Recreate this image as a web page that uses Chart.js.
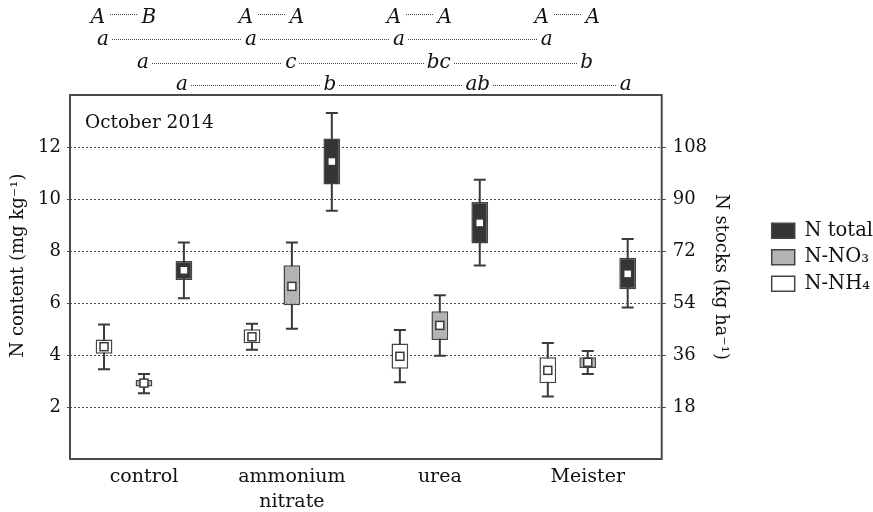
<!DOCTYPE html>
<html><head><meta charset="utf-8">
<script src="https://cdn.jsdelivr.net/npm/chart.js@4.4.1/dist/chart.umd.min.js"></script>
<style>html,body{margin:0;padding:0;background:#fff}#wrap{width:873px;height:512px;position:relative}</style>
</head><body><div id="wrap"><canvas id="c" width="873" height="512"></canvas></div>
<script>
const categories = ['control', ['ammonium', 'nitrate'], 'urea', 'Meister'];
const seriesNames = ['N-NH₄', 'N-NO₃', 'N total'];
// N-NH4
const nh4Min = [3.45, 4.20, 2.95, 2.40];
const nh4Q1 = [4.05, 4.45, 3.47, 2.91];
const nh4Med = [4.32, 4.70, 3.95, 3.41];
const nh4Q3 = [4.60, 4.99, 4.44, 3.91];
const nh4Max = [5.17, 5.20, 4.96, 4.46];
// N-NO3
const no3Min = [2.53, 5.01, 3.97, 3.27];
const no3Q1 = [2.79, 5.91, 4.58, 3.50];
const no3Med = [2.92, 6.64, 5.14, 3.72];
const no3Q3 = [3.04, 7.45, 5.68, 3.91];
const no3Max = [3.27, 8.33, 6.30, 4.15];
// N total
const totMin = [6.18, 9.55, 7.44, 5.83];
const totQ1 = [6.88, 10.56, 8.29, 6.53];
const totMed = [7.26, 11.44, 9.08, 7.12];
const totQ3 = [7.62, 12.33, 9.88, 7.74];
const totMax = [8.33, 13.31, 10.74, 8.46];
// significance letters
const lettersTop = [['A', 'B'], ['A', 'A'], ['A', 'A'], ['A', 'A']];
const lettersNH4 = ['a', 'a', 'a', 'a'];
const lettersNO3 = ['a', 'c', 'bc', 'b'];
const lettersTot = ['a', 'b', 'ab', 'a'];
const leftTicks = [2, 4, 6, 8, 10, 12];
const rightTicks = [18, 36, 54, 72, 90, 108];
const panelLabel = 'October 2014';

const FONT = "'DejaVu Serif', serif";
const INK = '#3a3a3a';
const fills = ['#ffffff', '#b3b3b3', '#353535'];
const mins = [nh4Min, no3Min, totMin];
const meds = [nh4Med, no3Med, totMed];
const maxs = [nh4Max, no3Max, totMax];
const q1s = [nh4Q1, no3Q1, totQ1];
const q3s = [nh4Q3, no3Q3, totQ3];

const boxPlugin = {
  id: 'boxparts',
  beforeDatasetsDraw(chart) {
    const ctx = chart.ctx, y = chart.scales.y;
    ctx.save();
    ctx.strokeStyle = INK; ctx.lineWidth = 2;
    for (let d = 0; d < 3; d++) {
      const meta = chart.getDatasetMeta(d);
      meta.data.forEach((bar, i) => {
        const x = bar.x;
        const y1 = y.getPixelForValue(mins[d][i]);
        const y2 = y.getPixelForValue(maxs[d][i]);
        ctx.beginPath();
        ctx.moveTo(x, y1); ctx.lineTo(x, y2);
        ctx.moveTo(x - 6, y1); ctx.lineTo(x + 6, y1);
        ctx.moveTo(x - 6, y2); ctx.lineTo(x + 6, y2);
        ctx.stroke();
      });
    }
    ctx.restore();
  },
  afterDatasetsDraw(chart) {
    const ctx = chart.ctx, y = chart.scales.y;
    ctx.save();
    ctx.strokeStyle = INK; ctx.lineWidth = 1.5; ctx.fillStyle = '#fff';
    for (let d = 0; d < 3; d++) {
      const meta = chart.getDatasetMeta(d);
      meta.data.forEach((bar, i) => {
        const x = bar.x, ym = y.getPixelForValue(meds[d][i]);
        ctx.fillRect(x - 4, ym - 4, 8, 8);
        ctx.strokeRect(x - 4, ym - 4, 8, 8);
      });
    }
    // frame
    const a = chart.chartArea;
    ctx.strokeStyle = '#4a4a4a'; ctx.lineWidth = 2;
    ctx.strokeRect(a.left, a.top, a.right - a.left, a.bottom - a.top);
    // panel label
    ctx.fillStyle = '#111'; ctx.font = '18.5px ' + FONT;
    ctx.textBaseline = 'middle'; ctx.textAlign = 'left';
    ctx.fillText(panelLabel, a.left + 15, a.top + 28);
    ctx.restore();
  },
  afterDraw(chart) {
    const ctx = chart.ctx;
    ctx.save();
    ctx.font = 'italic 20px ' + FONT;
    ctx.textBaseline = 'alphabetic'; ctx.textAlign = 'center';
    const xs = d => chart.getDatasetMeta(d).data.map(b => b.x);
    const rows = [];
    const t = [];
    lettersTop.forEach((p, i) => {
      t.push({x: xs(0)[i] - 6, s: p[0], link: true});
      t.push({x: xs(1)[i] + 5, s: p[1], link: false});
    });
    rows.push({y: 23, dy: 9, gap: 5, items: t});
    rows.push({y: 45, dy: 6, gap: 3, items: lettersNH4.map((s, i) => ({x: xs(0)[i] - 1, s, link: i < 3}))});
    rows.push({y: 68, dy: 5, gap: 3, items: lettersNO3.map((s, i) => ({x: xs(1)[i] - 1, s, link: i < 3}))});
    rows.push({y: 90, dy: 5, gap: 3, items: lettersTot.map((s, i) => ({x: xs(2)[i] - 2, s, link: i < 3}))});
    rows.forEach(r => {
      r.items.forEach((it, k) => {
        ctx.fillStyle = '#111';
        ctx.fillText(it.s, it.x, r.y);
        if (it.link && r.items[k + 1]) {
          const w1 = ctx.measureText(it.s).width / 2;
          const n = r.items[k + 1];
          const w2 = ctx.measureText(n.s).width / 2;
          ctx.save();
          ctx.strokeStyle = '#444'; ctx.lineWidth = 1; ctx.setLineDash([1, 1]);
          ctx.beginPath();
          const yy = Math.round(r.y - r.dy) + 0.5;
          ctx.moveTo(Math.round(it.x + w1 + r.gap), yy); ctx.lineTo(Math.round(n.x - w2 - r.gap), yy);
          ctx.stroke();
          ctx.restore();
        }
      });
    });
    ctx.restore();
  }
};

new Chart(document.getElementById('c'), {
  type: 'bar',
  data: {
    labels: categories,
    datasets: [0, 1, 2].map(d => ({
      label: seriesNames[d],
      data: q1s[d].map((v, i) => [v, q3s[d][i]]),
      backgroundColor: fills[d],
      borderColor: '#444',
      borderWidth: 1.5,
      borderSkipped: false,
      categoryPercentage: 0.81,
      barPercentage: 0.42
    }))
  },
  options: {
    responsive: false,
    animation: false,
    layout: {padding: {top: 95, right: -10, bottom: 0, left: 0}},
    plugins: {
      tooltip: {enabled: false},
      legend: {
        position: 'right',
        align: 'start',
        fullSize: false,
        title: {display: true, text: ' ', font: {size: 10}, padding: {top: 0, bottom: 107}},
        labels: {
          color: '#111',
          font: {family: FONT, size: 19.5},
          boxWidth: 23, boxHeight: 15, padding: 7,
          generateLabels: () => [2, 1, 0].map(d => ({
            text: seriesNames[d], fillStyle: fills[d], strokeStyle: '#444', fontColor: '#111',
            lineWidth: 1.5, datasetIndex: d, hidden: false
          }))
        }
      }
    },
    scales: {
      x: {
        grid: {display: false, drawTicks: false},
        border: {display: false},
        ticks: {color: '#111', font: {family: FONT, size: 19, lineHeight: 1.3}, padding: 6, maxRotation: 0, autoSkip: false},
        afterFit: s => { s.height = 53; }
      },
      y: {
        position: 'left', min: 0, max: 14,
        afterBuildTicks: s => { s.ticks = leftTicks.map(v => ({value: v})); },
        grid: {color: '#444', lineWidth: 1, tickLength: 3, drawTicks: true},
        border: {display: false, dash: [2, 2]},
        ticks: {color: '#111', font: {family: FONT, size: 18}, padding: 6},
        title: {display: true, text: '    N content (mg kg⁻¹)', color: '#111', font: {family: FONT, size: 18}, padding: {top: 8, bottom: 0}},
        afterFit: s => { s.width = 70; }
      },
      y1: {
        position: 'right', min: 0, max: 126,
        afterBuildTicks: s => { s.ticks = rightTicks.map(v => ({value: v})); },
        grid: {drawOnChartArea: false, tickLength: 4, color: '#444'},
        border: {display: false},
        ticks: {color: '#111', font: {family: FONT, size: 18}, padding: 7},
        title: {display: true, text: 'N stocks (kg ha⁻¹)', color: '#111', font: {family: FONT, size: 18}, padding: {top: 33, bottom: 0}},
        afterFit: s => { s.width = 103; }
      }
    }
  },
  plugins: [boxPlugin]
});
</script></body></html>
